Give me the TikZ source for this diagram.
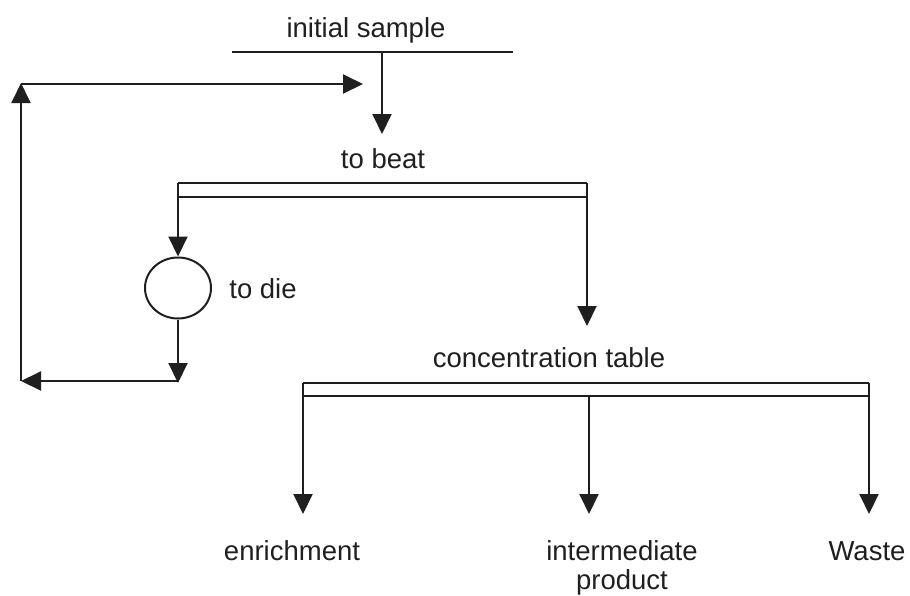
\documentclass[tikz,border=0pt]{standalone}
\usepackage{fontspec}
\setmainfont{Liberation Sans}
\usetikzlibrary{arrows.meta,shapes.geometric}
\begin{document}
\begin{tikzpicture}[x=1pt,y=-1pt,
  ln/.style={line width=2pt,draw=black!88},
  arr/.style={ln,-{Triangle[length=20pt,width=19pt]}},
  lbl/.style={anchor=base,inner sep=0pt,font=\fontsize{27.5}{32}\selectfont,text=black!88}]
\useasboundingbox (0,0) rectangle (910,595);
% texts
\node[lbl] (init) at (366,37) {initial sample};
\node[lbl] (beat) at (383,168) {to beat};
\node[lbl] (dietxt) at (263,298) {to die};
\node[lbl] (conc) at (549,367) {concentration table};
\node[lbl] (enr) at (292,560) {enrichment};
\node[lbl] (inter) at (622,560) {intermediate};
\node[lbl] (prod) at (622,589) {product};
\node[lbl] (waste) at (867,560) {Waste};
% die ellipse
\node[ellipse,ln,minimum width=66pt,minimum height=61pt,inner sep=0pt] (die) at (178,288) {};
% coordinates
\coordinate (topL) at (232,52);
\coordinate (topR) at (513,52);
\coordinate (stem) at (382,52);
\coordinate (beatTip) at (382,134);
\coordinate (b1tl) at (178,183);
\coordinate (b1tr) at (587,183);
\coordinate (b1bl) at (178,197);
\coordinate (b1br) at (587,197);
\coordinate (concTip) at (587,326);
\coordinate (dieTip) at (178,383);
\coordinate (loopR) at (178,381);
\coordinate (loopL) at (21,381);
\coordinate (loopTL) at (21,83);
\coordinate (loopT) at (21,84);
\coordinate (retTip) at (363,84);
\coordinate (b2tl) at (303,383);
\coordinate (b2tr) at (869,383);
\coordinate (b2bl) at (303,396);
\coordinate (b2br) at (869,396);
\coordinate (b2m) at (589,396);
\coordinate (enrTip) at (303,514);
\coordinate (interTip) at (589,514);
\coordinate (wasteTip) at (869,514);
% top
\draw[ln] (topL) -- (topR);
\draw[arr] (stem) -- (beatTip);
% bar 1
\draw[ln] (b1tl) -- (b1tr);
\draw[ln] (b1bl) -- (b1br);
\draw[arr] (b1tl) -- (die.north);
\draw[arr] (b1tr) -- (concTip);
% below die and loop back
\draw[arr] (die.south) -- (dieTip);
\draw[arr] (loopR) -- (loopL);
\draw[arr] (loopL) -- (loopTL);
\draw[arr] (loopT) -- (retTip);
% bar 2
\draw[ln] (b2tl) -- (b2tr);
\draw[ln] (b2bl) -- (b2br);
\draw[arr] (b2tl) -- (enrTip);
\draw[arr] (b2m) -- (interTip);
\draw[arr] (b2tr) -- (wasteTip);
\end{tikzpicture}
\end{document}
